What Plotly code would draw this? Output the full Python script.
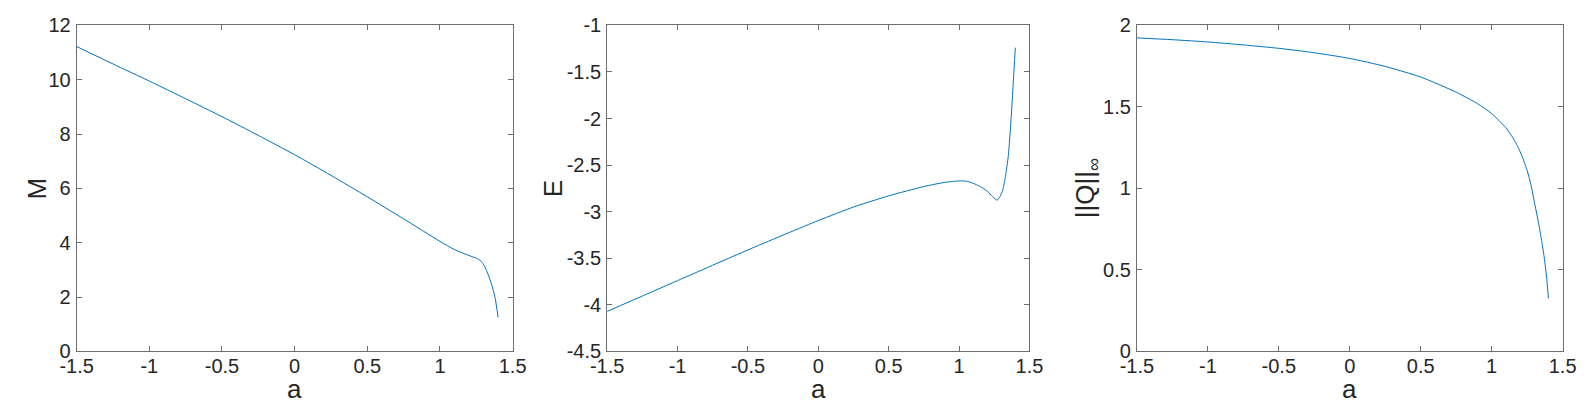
import plotly.graph_objects as go

# --- data ------------------------------------------------------------------
a_M = [-1.5, -1.25, -1.0, -0.75, -0.5, -0.25, 0.0, 0.25, 0.5, 0.75, 1.0,
       1.1, 1.2, 1.25, 1.28, 1.3, 1.32, 1.34, 1.36, 1.38, 1.4]
M_vals = [11.22, 10.58, 9.95, 9.30, 8.64, 7.95, 7.24, 6.48, 5.69, 4.88, 4.05,
          3.75, 3.53, 3.43, 3.34, 3.20, 2.98, 2.70, 2.38, 1.95, 1.25]

a_E = [-1.5, -1.0, -0.5, 0.0, 0.25, 0.5, 0.75, 0.9, 1.0, 1.05, 1.1, 1.15,
       1.2, 1.24, 1.27, 1.29, 1.31, 1.33, 1.35, 1.37, 1.385, 1.4]
E_vals = [-4.07, -3.74, -3.41, -3.095, -2.95, -2.83, -2.73, -2.685, -2.670,
          -2.672, -2.695, -2.73, -2.78, -2.84, -2.877, -2.84, -2.77, -2.62,
          -2.40, -2.00, -1.62, -1.24]

a_Q = [-1.5, -1.25, -1.0, -0.75, -0.5, -0.25, 0.0, 0.25, 0.5, 0.75, 0.9, 1.0,
       1.1, 1.15, 1.2, 1.25, 1.28, 1.3, 1.33, 1.35, 1.37, 1.38, 1.39, 1.4]
Q_vals = [1.923, 1.912, 1.898, 1.88, 1.859, 1.832, 1.797, 1.748, 1.683, 1.59,
          1.52, 1.459, 1.372, 1.31, 1.227, 1.11, 1.01, 0.92, 0.79, 0.69, 0.58,
          0.51, 0.43, 0.325]

x_ticks = [-1.5, -1, -0.5, 0, 0.5, 1, 1.5]
x_ticktext = ["-1.5", "-1", "-0.5", "0", "0.5", "1", "1.5"]
M_ticks = [0, 2, 4, 6, 8, 10, 12]
M_ticktext = ["0", "2", "4", "6", "8", "10", "12"]
E_ticks = [-4.5, -4, -3.5, -3, -2.5, -2, -1.5, -1]
E_ticktext = ["-4.5", "-4", "-3.5", "-3", "-2.5", "-2", "-1.5", "-1"]
Q_ticks = [0, 0.5, 1, 1.5, 2]
Q_ticktext = ["0", "0.5", "1", "1.5", "2"]

LINE = "#0072BD"
INK = "#262626"
AXIS = "#6e6e6e"
FONT = "Liberation Sans, Arial, Helvetica, sans-serif"
W, H = 1596, 402
Y_DOM = [0.1251, 0.9833]

# (x, y, y-label, y-range, ticks, tick text, x-domain, y-label left edge in px)
panels = [
    (a_M, M_vals, "M", [0, 12], M_ticks, M_ticktext, [0.033, 0.3116], 0),
    (a_E, E_vals, "E", [-4.5, -1], E_ticks, E_ticktext, [0.372, 0.6418], 527),
    (a_Q, Q_vals, "||Q||<sub>∞</sub>", [0, 2], Q_ticks, Q_ticktext, [0.7105, 0.9825], 1069),
]

fig = go.Figure()
axis_common = dict(
    showline=True, linecolor=AXIS, linewidth=1, mirror="ticks",
    ticks="inside", ticklen=5, tickcolor=AXIS, tickwidth=1,
    showgrid=False, zeroline=False, ticklabeloverflow="allow",
    tickfont=dict(family=FONT, size=20, color=INK),
)

for i, (xs, ys, label, yr, yt, ytt, dom, lab_x) in enumerate(panels, start=1):
    sfx = "" if i == 1 else str(i)
    fig.add_trace(go.Scatter(
        x=xs, y=ys, mode="lines",
        line=dict(color=LINE, width=1, shape="spline", smoothing=0.6),
        xaxis="x" + sfx, yaxis="y" + sfx, showlegend=False,
    ))
    fig.layout["xaxis" + sfx] = dict(
        axis_common, domain=dom, anchor="y" + sfx, range=[-1.5, 1.5],
        tickvals=x_ticks, ticktext=x_ticktext, ticklabelstandoff=-3,
    )
    fig.layout["yaxis" + sfx] = dict(
        axis_common, domain=Y_DOM, anchor="x" + sfx, range=yr,
        tickvals=yt, ticktext=ytt, ticklabelstandoff=1,
    )
    # axis titles placed by hand, like the MATLAB layout
    fig.add_annotation(
        text="a", xref="paper", yref="paper",
        x=(dom[0] + dom[1]) / 2, y=0, xanchor="center", yanchor="bottom",
        yshift=-6, borderpad=0,
        showarrow=False, font=dict(family=FONT, size=26, color=INK),
    )
    fig.add_annotation(
        text=label, xref="paper", yref="paper", textangle=-90,
        x=lab_x / W, y=(Y_DOM[0] + Y_DOM[1]) / 2,
        xanchor="left", yanchor="middle", borderpad=0, xshift=-4,
        showarrow=False, font=dict(family=FONT, size=26, color=INK),
    )

fig.update_layout(
    width=W, height=H,
    margin=dict(l=0, r=0, t=0, b=0),
    paper_bgcolor="white", plot_bgcolor="white",
    font=dict(family=FONT, color=INK),
)

fig.write_html("out.html")
